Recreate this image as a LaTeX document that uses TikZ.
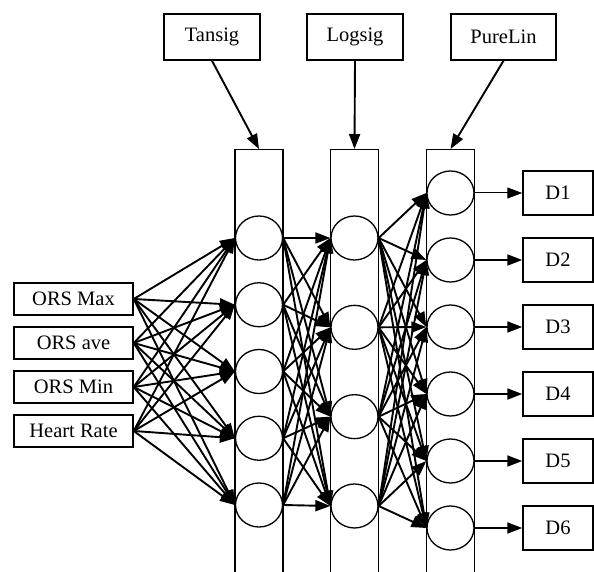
\documentclass[tikz,border=0pt]{standalone}
\usepackage{fontspec}
\setmainfont{Liberation Serif}
\usetikzlibrary{arrows.meta,positioning,shapes.geometric}

\begin{document}
\begin{tikzpicture}[x=1pt,y=-1pt,-{Triangle[length=15pt,width=11pt]},draw=black!100,line width=1.9pt]
	\tikzstyle{neuron}=[ellipse, minimum width=47pt, minimum height=44pt, inner sep=0pt, draw=black!100, line width=1.3pt, fill=white]
	\tikzstyle{layer}=[rectangle, minimum width=48pt, minimum height=460pt, anchor=north, inner sep=0pt, draw=black!100, line width=1.3pt]
	\tikzstyle{box}=[rectangle, inner sep=0pt, draw=black!100, line width=1.5pt, font=\fontsize{20.5}{24}\selectfont]
	\def\inputsize{4}
	\def\tansize{5}
	\def\logsize{4}
	\def\linsize{6}
	\useasboundingbox (0,0) rectangle (594,572);
	
	% Draw the layer columns
	\foreach \name/\x in {1/259,2/354.5,3/450.5}
	\node[layer] (C-\name) at (\x,149) {};
	% Draw the transfer function boxes on top
	\node[box, minimum width=96pt, minimum height=46pt] (F-1) at (212,37) {Tansig};
	\node[box, minimum width=96pt, minimum height=46pt] (F-2) at (355,37) {Logsig};
	\node[box, minimum width=105pt, minimum height=46pt] (F-3) at (503.5,37) {PureLin};
	\foreach \name in {1,2,3}
	 \path (F-\name.south) edge (C-\name.north);
	
	% Draw the input nodes
	\foreach \name/\text in {1/ORS Max,2/ORS ave,3/ORS Min,4/Heart Rate}
	\node[box, minimum width=119pt, minimum height=32pt] (I-\name) at (73.5,{299+44*(\name-1)}) {\text};
	% Draw the hidden layer nodes
	\foreach \name in {1,...,\tansize}
	 \node[neuron] (H-1-\name) at (259,{238+66.75*(\name-1)}) {};
	\foreach \name in {1,...,\logsize}
	 \node[neuron] (H-2-\name) at (354.5,{238+89.33*(\name-1)}) {};
	% Draw the output layer nodes
	\foreach \name in {1,...,\linsize}
	 \node[neuron] (O-\name) at (450.5,{193+67*(\name-1)}) {};
	\foreach \name in {1,...,\linsize}
	 \node[box, minimum width=70pt, minimum height=44pt] (D-\name) at (558,{193+67*(\name-1)}) {D\name};
	
	% Connect every input with every node of the first hidden layer
	\foreach \source in {1,...,\inputsize}
	 \foreach \dest in {1,...,\tansize}
	  \path (I-\source.east) edge (H-1-\dest.west);
	% Connect the first hidden layer with the second one
	\foreach \source in {1,...,\tansize}
	 \foreach \dest in {1,...,\logsize}
	  \path (H-1-\source.east) edge (H-2-\dest.west);
	% Connect the second hidden layer with the output layer
	\foreach \source in {1,...,\logsize}
	 \foreach \dest in {1,...,\linsize}
	  \path (H-2-\source.east) edge (O-\dest.west);
	% Output nodes to the targets
	\path (O-1.east) edge[line width=1pt] (D-1.west);
	\foreach \name in {2,...,\linsize}
	 \path (O-\name.east) edge (D-\name.west);
\end{tikzpicture}
\end{document}
